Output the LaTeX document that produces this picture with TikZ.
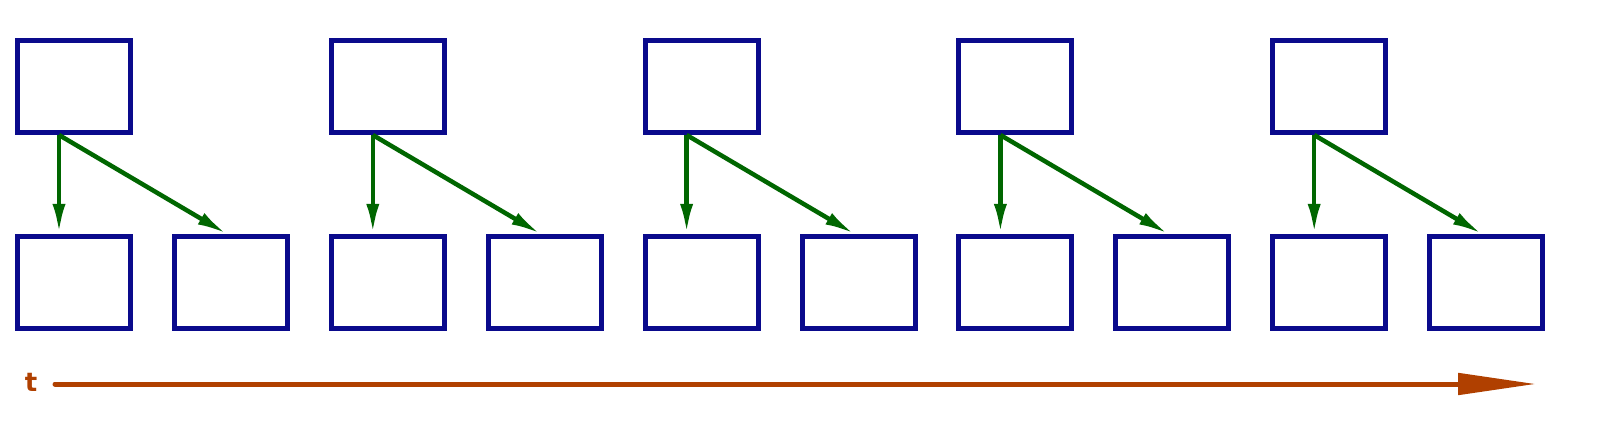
\documentclass[tikz,border=0pt]{standalone}
\usepackage{fontspec}
\setmainfont{DejaVu Sans}
\usetikzlibrary{arrows.meta}
\definecolor{bx}{HTML}{0A0A8C}
\definecolor{gr}{HTML}{006600}
\definecolor{tl}{HTML}{B04000}
\tikzset{
  cell/.style={draw=bx,line width=5pt,minimum width=113pt,minimum height=92pt,inner sep=0pt},
  conn/.style={draw=gr,line width=4.5pt,-{Latex[length=30pt,width=13pt]}},
}
\begin{document}
\begin{tikzpicture}[x=1pt,y=-1pt]
\useasboundingbox (0,0) rectangle (1600,430);
\foreach \i in {0,...,4}{
  \pgfmathsetmacro{\xx}{15+313.8*\i}
  \node[cell,anchor=north west] (t\i) at (\xx,38) {};
  \node[cell,anchor=north west] (a\i) at (\xx,234) {};
  \node[cell,anchor=north west] (b\i) at (\xx+157,234) {};
  \coordinate (s\i) at ([xshift=-15pt]t\i.south);
  \draw[conn] (s\i) -- (s\i |- a\i.north);
  \draw[conn] (s\i) -- ([xshift=-4pt]b\i.north);
}
\node[text=tl,font=\fontsize{26}{26}\selectfont\bfseries] (t) at (31,382) {t};
\coordinate (te) at (1536,384);
\draw[tl,line width=5pt,line cap=round,-{Triangle[length=78pt,width=21pt]}] (55,384) -- (te);
\end{tikzpicture}
\end{document}
